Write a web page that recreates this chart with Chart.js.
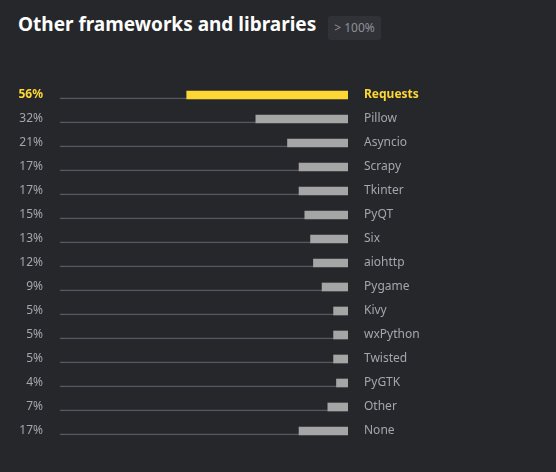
<!DOCTYPE html>
<html>
<head>
<meta charset="utf-8">
<script src="https://cdn.jsdelivr.net/npm/chart.js@4/dist/chart.umd.min.js"></script>
<style>
    html, body { margin:0; padding:0; background:#25272b; }
    body { width:556px; height:472px; position:relative; overflow:hidden; font-family:'Noto Sans', sans-serif; }
    .title { position:absolute; left:18px; top:11px; color:#ffffff; font-size:19px; font-weight:700; }
    .badge { position:absolute; left:328px; top:16px; width:53px; height:24px; line-height:24px; text-align:center;
             background:#303237; border-radius:3px; color:#8e9197; font-size:12px; }
    #wrap { position:absolute; left:0; top:0; width:556px; height:472px; }
</style>
</head>
<body>
<div class="title">Other frameworks and libraries</div>
<div class="badge">&gt; 100%</div>
<div id="wrap"><canvas id="chart"></canvas></div>
<script>
// Data
const libraries = ['Requests','Pillow','Asyncio','Scrapy','Tkinter','PyQT','Six','aiohttp','Pygame','Kivy','wxPython','Twisted','PyGTK','Other','None'];
const shares    = [56, 32, 21, 17, 17, 15, 13, 12, 9, 5, 5, 5, 4, 7, 17];
const shareLabels = shares.map(v => v + '%');
const fullTrack = libraries.map(() => 100);

const YELLOW = '#fdd835';
const GRAY   = '#a5a5a5';
const TEXT   = '#a3a7ad';

new Chart(document.getElementById('chart'), {
    type: 'bar',
    data: {
        labels: libraries,
        datasets: [
            { label: 'share', data: shares, order: 1, grouped: false, barThickness: 8,
              backgroundColor: shares.map((v, i) => i === 0 ? YELLOW : GRAY) },
            { label: 'track', data: fullTrack, order: 2, grouped: false, barThickness: 8,
              backgroundColor: 'rgba(0,0,0,0)', borderColor: '#55585d', borderSkipped: false,
              borderWidth: { top:0, left:0, right:0, bottom:1 } }
        ]
    },
    options: {
        indexAxis: 'y',
        responsive: true,
        maintainAspectRatio: false,
        animation: false,
        layout: { padding: { top: 83, bottom: 29, left: 0, right: 0 } },
        plugins: { legend: { display:false }, tooltip: { enabled:false } },
        scales: {
            x: { reverse: true, min: 0, max: 100, display: false },
            y: {
                position: 'right',
                grid: { display:false, drawTicks:false },
                border: { display:false },
                afterFit: s => { s.width = 208; },
                ticks: {
                    padding: 16,
                    color: c => c.index === 0 ? YELLOW : TEXT,
                    font: c => ({ family:"'Noto Sans', sans-serif", size:12, weight: c.index === 0 ? 'bold' : 'normal' })
                }
            },
            pct: {
                type: 'category',
                labels: shareLabels,
                position: 'left',
                grid: { display:false, drawTicks:false },
                border: { display:false },
                afterFit: s => { s.width = 60; },
                ticks: {
                    padding: 17,
                    color: c => c.index === 0 ? YELLOW : TEXT,
                    font: c => ({ family:"'Noto Sans', sans-serif", size:12, weight: c.index === 0 ? 'bold' : 'normal' })
                }
            }
        }
    }
});
</script>
</body>
</html>
